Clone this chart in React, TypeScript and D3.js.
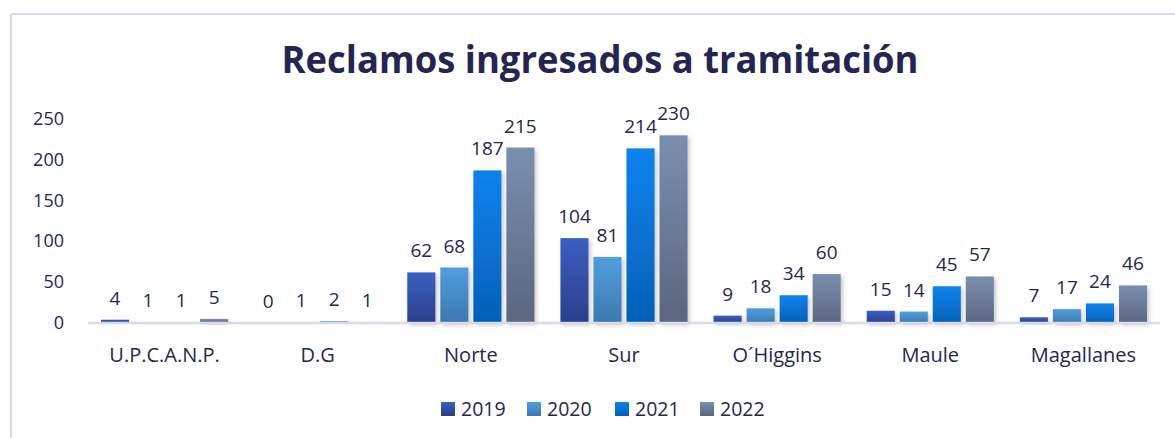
import React from "react";
import * as d3 from "d3";

const categories = ["U.P.C.A.N.P.", "D.G", "Norte", "Sur", "O\u00B4Higgins", "Maule", "Magallanes"];
const seriesNames = ["2019", "2020", "2021", "2022"];
const values2019 = [4, 0, 62, 104, 9, 15, 7];
const values2020 = [1, 1, 68, 81, 18, 14, 17];
const values2021 = [1, 2, 187, 214, 34, 45, 24];
const values2022 = [5, 1, 215, 230, 60, 57, 46];
const yTicks = [0, 50, 100, 150, 200, 250];

const seriesValues = [values2019, values2020, values2021, values2022];
const gradients = [
  ["#3a5fc0", "#2b3f8c"],
  ["#519fe0", "#3b78b0"],
  ["#0b82ee", "#0560b6"],
  ["#7a8fb0", "#5a6680"],
];

const W = 1175;
const H = 438;
const textColor = "#24274f";
const font = "'Open Sans', sans-serif";

export default function App() {
  const x0 = d3.scaleBand<string>().domain(categories).range([88, 1160]);
  const step = x0.bandwidth();
  const x1 = d3.scaleBand<string>().domain(seriesNames).range([13, step - 13]).paddingInner(0.15);
  const y = d3.scaleLinear().domain([0, 250]).range([323, 119]);

  const legendX = [441, 527, 615, 700];

  return (
    <svg width={W} height={H} style={{ position: "absolute", left: 0, top: 0, background: "#fff" }}>
      <defs>
        {gradients.map((g, i) => (
          <linearGradient key={i} id={`g${i}`} x1="0" y1="0" x2="0" y2="1">
            <stop offset="0%" stopColor={g[0]} />
            <stop offset="100%" stopColor={g[1]} />
          </linearGradient>
        ))}
        <filter id="sh" x="-20%" y="-20%" width="150%" height="150%">
          <feDropShadow dx="2" dy="2" stdDeviation="2" floodColor="#000" floodOpacity="0.22" />
        </filter>
      </defs>
      <rect x={0} y={0} width={W} height={H} fill="#fff" />
      <line x1={11} y1={14} x2={W} y2={14} stroke="#d6d8ee" strokeWidth={2} />
      <line x1={11} y1={14} x2={11} y2={H} stroke="#d6d8ee" strokeWidth={2} />

      <text x={600} y={73} textAnchor="middle" fontFamily={font} fontWeight={700} fontSize={38}
        fill="#23264f" textLength={637} lengthAdjust="spacingAndGlyphs">
        Reclamos ingresados a tramitación
      </text>

      {yTicks.map((t) => (
        <text key={t} x={64} y={y(t) + 6} textAnchor="end" fontFamily={font} fontSize={18} fill={textColor}>
          {t}
        </text>
      ))}

      {categories.map((c, ci) => (
        <g key={c} transform={`translate(${x0(c)},0)`}>
          {seriesNames.map((s, si) => {
            const v = seriesValues[si][ci];
            const bx = x1(s)!;
            const bw = x1.bandwidth();
            const top = y(v);
            return (
              <g key={s}>
                {v > 0 && (
                  <rect x={bx} y={top} width={bw} height={y(0) - top} fill={`url(#g${si})`} filter="url(#sh)" />
                )}
                <text x={bx + bw / 2} y={top - 15} textAnchor="middle" fontFamily={font} fontSize={19} fill={textColor}>
                  {v}
                </text>
              </g>
            );
          })}
          <text x={step / 2} y={362} textAnchor="middle" fontFamily={font} fontSize={20} fill={textColor}>
            {c}
          </text>
        </g>
      ))}

      <line x1={88} x2={1160} y1={y(0)} y2={y(0)} stroke="#d9dae9" strokeWidth={2.5} />

      {seriesNames.map((s, si) => (
        <g key={s}>
          <rect x={legendX[si]} y={402} width={14} height={14} fill={`url(#g${si})`} />
          <text x={legendX[si] + 20} y={416} fontFamily={font} fontSize={19.5} fill={textColor}>
            {s}
          </text>
        </g>
      ))}
    </svg>
  );
}
